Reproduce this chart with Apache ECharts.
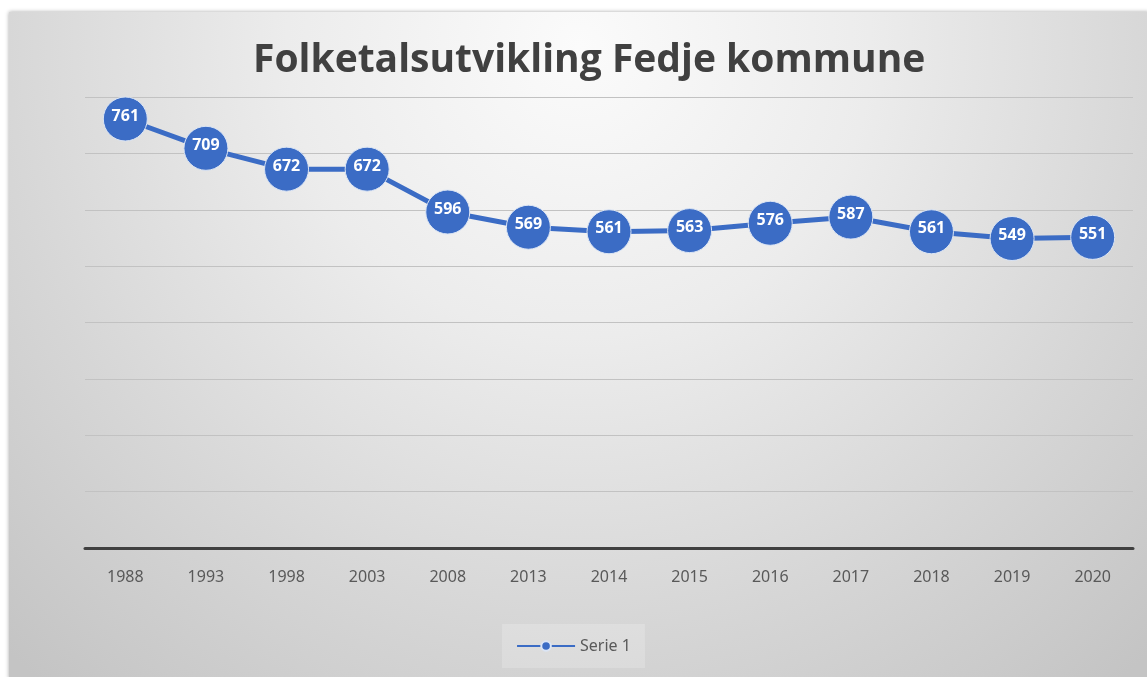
<!DOCTYPE html>
<html>
<head>
<meta charset="utf-8">
<script src="https://cdn.jsdelivr.net/npm/echarts@6/dist/echarts.min.js"></script>
<style>html,body{margin:0;padding:0;background:#fff;}#c{width:1147px;height:677px;}</style>
</head>
<body>
<div id="c"></div>
<script>
const categories = ['1988','1993','1998','2003','2008','2013','2014','2015','2016','2017','2018','2019','2020'];
const serie1 = [761,709,672,672,596,569,561,563,576,587,561,549,551];
const titleText = 'Folketalsutvikling Fedje kommune';
const seriesName = 'Serie 1';

const chart = echarts.init(document.getElementById('c'), null, {renderer:'canvas'});
const bg = new echarts.graphic.RadialGradient(0.5, 0.05, 1.25, [
  {offset:0, color:'#fbfbfb'},
  {offset:0.35, color:'#ececec'},
  {offset:0.7, color:'#d6d6d6'},
  {offset:1, color:'#c4c4c4'}
]);
chart.setOption({
  backgroundColor:'#ffffff',
  animation:false,
  graphic:[{
    type:'rect', z:-10, silent:true,
    shape:{x:9,y:12,width:1140,height:667},
    style:{fill:bg, shadowBlur:4, shadowColor:'rgba(0,0,0,0.35)', shadowOffsetY:0}
  }],
  title:{
    text:titleText, left:248, top:36,
    textStyle:{fontFamily:'Open Sans', fontWeight:'bold', fontSize:39, color:'#404040'}
  },
  legend:{
    bottom:9, left:'center',
    data:[seriesName],
    itemWidth:58, itemHeight:12, itemGap:0,
    padding:[14,14,14,14],
    backgroundColor:'rgba(255,255,255,0.2)',
    textStyle:{fontFamily:'Noto Sans', fontSize:16, color:'#595959', padding:[0,0,0,0]}
  },
  grid:{left:85, right:14, top:97, bottom:129, containLabel:false},
  xAxis:{
    type:'category', data:categories, boundaryGap:true,
    axisLine:{lineStyle:{color:'#404040', width:3}},
    axisTick:{show:false},
    axisLabel:{fontFamily:'Noto Sans', fontSize:16, color:'#595959', margin:21}
  },
  yAxis:{
    type:'value', min:0, max:800, interval:100,
    axisLabel:{show:false}, axisLine:{show:false}, axisTick:{show:false},
    splitLine:{lineStyle:{color:'#c2c2c2', width:1}}
  },
  series:[{
    name:seriesName, type:'line', data:serie1,
    symbol:'circle', symbolSize:44,
    itemStyle:{color:'#3b6cc5', borderColor:'#dbe5f5', borderWidth:1},
    lineStyle:{color:'#3b6cc5', width:5},
    label:{show:true, position:'inside', color:'#ffffff', fontFamily:'Open Sans', fontWeight:'bold', fontSize:16, offset:[0,-3]}
  }]
});
</script>
</body>
</html>
